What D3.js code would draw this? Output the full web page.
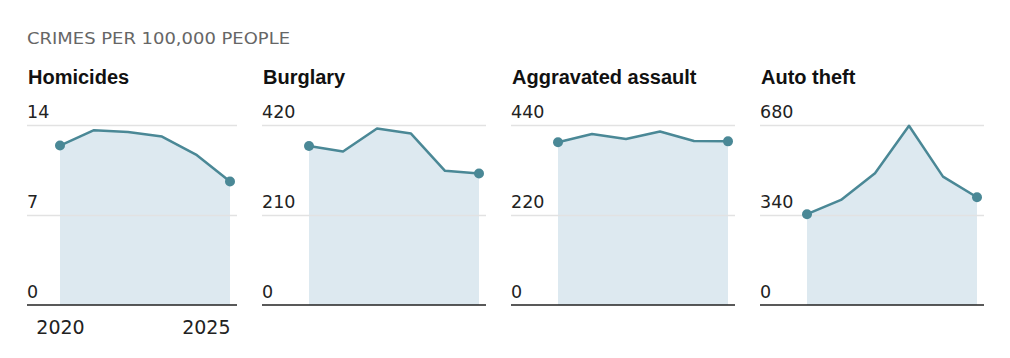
<!DOCTYPE html>
<html><head><meta charset="utf-8">
<script src="https://cdn.jsdelivr.net/npm/d3@7"></script>
<style>
body{margin:0;background:#fff;}
svg text{font-family:"DejaVu Sans",sans-serif;}
svg text.title{font-family:"Liberation Sans",Arial,sans-serif;}
</style></head>
<body>
<svg id="c" width="1010" height="358"></svg>
<script>
const years = [2020, 2021, 2022, 2023, 2024, 2025];
const titles = ["Homicides", "Burglary", "Aggravated assault", "Auto theft"];
const homicides = [12.4, 13.6, 13.45, 13.1, 11.7, 9.6];
const burglary = [371, 358, 412, 400, 313, 307];
const assault = [398, 418, 406, 424, 401, 400];
const autoTheft = [343, 397, 498, 677, 485, 407];
const yMaxes = [14, 420, 440, 680];
const yTicks = [[0, 7, 14], [0, 210, 420], [0, 220, 440], [0, 340, 680]];
const xTickLabels = ["2020", "2025"];
const seriesList = [homicides, burglary, assault, autoTheft];

const svg = d3.select("#c");
svg.append("text").attr("x", 27).attr("y", 44)
  .attr("font-size", 15.5).attr("fill", "#666")
  .attr("textLength", 263).attr("lengthAdjust", "spacingAndGlyphs")
  .text("CRIMES PER 100,000 PEOPLE");

const lineColor = "#4a8896";
const areaColor = "#dde9f0";

seriesList.forEach((vals, i) => {
  const x0 = 13 + i * 249;
  const axisL = i === 0 ? 27 : x0;
  const axisR = x0 + 224;
  const g = svg.append("g");
  const x = d3.scaleLinear().domain([2020, 2025]).range([x0 + 47, x0 + 217]);
  const y = d3.scaleLinear().domain([0, yMaxes[i]]).range([305, 125]);

  g.append("text").attr("class", "title").attr("x", axisL + 1).attr("y", 83.5)
    .attr("font-size", 20).attr("font-weight", "bold").attr("fill", "#111").text(titles[i]);

  const data = years.map((yr, k) => ({yr, v: vals[k]}));
  g.append("path").datum(data)
    .attr("fill", areaColor)
    .attr("d", d3.area().x(d => x(d.yr)).y0(y(0)).y1(d => y(d.v)));

  const yAxis = d3.axisLeft(y).tickValues(yTicks[i]).tickSize(-(axisR - axisL)).tickFormat(d3.format("d"));
  const ga = g.append("g").attr("transform", `translate(${axisL},0)`).call(yAxis);
  ga.select(".domain").remove();
  ga.selectAll(".tick line").attr("stroke", "#e2e2e2").attr("stroke-width", 1.5)
    .filter(d => d === 0).remove();
  ga.selectAll(".tick text").attr("x", 0).attr("dy", -7.5).attr("text-anchor", "start")
    .attr("font-size", 17.5).attr("fill", "#222").attr("font-family", "DejaVu Sans");

  g.append("line").attr("x1", axisL).attr("x2", axisR).attr("y1", y(0)).attr("y2", y(0))
    .attr("stroke", "#222").attr("stroke-width", 1.5);

  g.append("path").datum(data)
    .attr("fill", "none").attr("stroke", lineColor).attr("stroke-width", 2.5)
    .attr("stroke-linejoin", "round")
    .attr("d", d3.line().x(d => x(d.yr)).y(d => y(d.v)));

  g.selectAll("circle").data([data[0], data[data.length - 1]]).join("circle")
    .attr("cx", d => x(d.yr)).attr("cy", d => y(d.v)).attr("r", 5).attr("fill", lineColor);

  if (i === 0) {
    const xAxis = d3.axisBottom(x).tickValues([2020, 2025]).tickSize(0).tickFormat((d, k) => xTickLabels[k]);
    const gx = g.append("g").attr("transform", `translate(0,${y(0)})`).call(xAxis);
    gx.select(".domain").remove();
    gx.selectAll(".tick text").attr("y", 0).attr("dy", 29).attr("font-size", 19)
      .attr("fill", "#222").attr("font-family", "DejaVu Sans")
      .attr("text-anchor", (d, k) => k === 1 ? "end" : "middle");
  }
});
</script>
</body></html>
